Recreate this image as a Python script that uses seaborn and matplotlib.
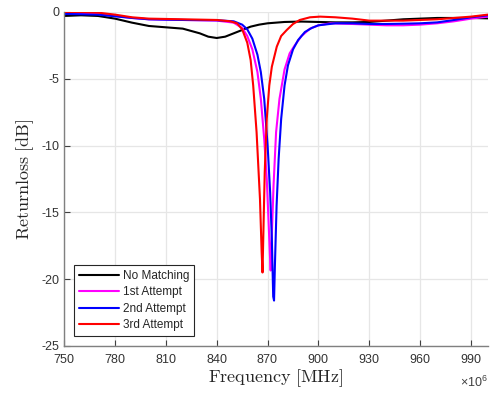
import numpy as np
import pandas as pd
import matplotlib
matplotlib.use("Agg")
import matplotlib.pyplot as plt
import seaborn as sns
from matplotlib.ticker import ScalarFormatter

# Frequency points [MHz] and return loss [dB]
f_none = [750, 760, 770, 780, 790, 800, 810, 820, 830, 835, 840, 845, 850, 855, 860,
          865, 870, 880, 890, 900, 910, 920, 930, 940, 950, 960, 970, 980, 990, 1000]
rl_none = [-0.3, -0.25, -0.3, -0.5, -0.8, -1.05, -1.15, -1.25, -1.6, -1.85, -1.95, -1.85,
           -1.6, -1.35, -1.1, -0.95, -0.85, -0.75, -0.72, -0.75, -0.78, -0.78, -0.75,
           -0.65, -0.55, -0.5, -0.45, -0.45, -0.45, -0.48]

f_1st = [750, 770, 790, 800, 820, 840, 850, 855, 858, 861, 864, 866, 868, 869.5, 870.5,
         871.3, 871.8, 872.4, 873.5, 875, 877, 880, 883, 886, 890, 895, 900, 907, 920,
         930, 940, 950, 960, 970, 980, 990, 1000]
rl_1st = [-0.1, -0.15, -0.45, -0.55, -0.6, -0.65, -0.8, -1.2, -1.8, -2.8, -4.5, -6.5,
          -9.5, -12.5, -15.5, -18.0, -19.35, -17.0, -13.0, -9.0, -6.5, -4.3, -3.1, -2.5,
          -1.8, -1.25, -1.0, -0.85, -0.9, -0.95, -1.0, -1.0, -0.95, -0.85, -0.7, -0.5,
          -0.35]

f_2nd = [750, 770, 790, 800, 820, 840, 850, 855, 858, 861, 864, 866, 868, 870, 871.5,
         872.5, 873.3, 873.8, 874.3, 875.3, 876.5, 878, 880, 882, 885, 888, 892, 896,
         900, 910, 920, 930, 940, 950, 960, 970, 980, 990, 1000]
rl_2nd = [-0.15, -0.2, -0.45, -0.55, -0.6, -0.62, -0.7, -0.95, -1.3, -2.0, -3.2, -4.5,
          -6.5, -10.0, -13.5, -17.0, -21.3, -21.6, -19.0, -14.5, -11.0, -8.0, -5.5, -4.0,
          -2.8, -2.1, -1.5, -1.2, -1.0, -0.85, -0.85, -0.9, -0.9, -0.88, -0.85, -0.78,
          -0.6, -0.4, -0.25]

f_3rd = [750, 760, 770, 780, 790, 800, 820, 840, 848, 852, 855, 858, 860, 861.5, 863.5,
         865.5, 866.5, 867, 867.6, 868.3, 869.5, 871, 872.5, 875.4, 878, 881.3, 885, 889,
         895, 901, 910, 920, 930, 940, 950, 960, 970, 980, 990, 1000]
rl_3rd = [0.0, 0.0, -0.05, -0.2, -0.4, -0.5, -0.55, -0.6, -0.7, -0.85, -1.3, -2.3, -3.6,
          -5.5, -9.0, -14.0, -18.0, -19.5, -16.0, -12.0, -8.0, -5.5, -4.1, -2.6, -1.8,
          -1.35, -0.9, -0.6, -0.4, -0.35, -0.4, -0.5, -0.65, -0.65, -0.65, -0.6, -0.55,
          -0.45, -0.35, -0.2]

labels = ["No Matching", "1st Attempt", "2nd Attempt", "3rd Attempt"]
colors = ["#000000", "#ff00ff", "#0000ff", "#ff0000"]

frames = []
for name, f, rl in zip(labels, [f_none, f_1st, f_2nd, f_3rd],
                       [rl_none, rl_1st, rl_2nd, rl_3rd]):
    frames.append(pd.DataFrame({"freq": np.array(f) * 1e6, "rl": rl, "trace": name}))
df = pd.concat(frames, ignore_index=True)

sns.set_style("white")
plt.rcParams["font.family"] = ["Liberation Sans", "DejaVu Sans"]
plt.rcParams["axes.unicode_minus"] = False
plt.rcParams["mathtext.fontset"] = "custom"
plt.rcParams["mathtext.rm"] = "Liberation Sans"

fig = plt.figure(figsize=(4.97, 3.93), dpi=100)
ax = fig.add_axes([0.129, 0.1196, 0.853, 0.85])

sns.lineplot(data=df, x="freq", y="rl", hue="trace", hue_order=labels,
             palette=colors, sort=False, estimator=None, linewidth=1.5, ax=ax)

ax.set_xlim(750e6, 1000e6)
ax.set_ylim(-25, 0)
ax.set_xticks(np.arange(750, 991, 30) * 1e6)
ax.set_yticks([-25, -20, -15, -10, -5, 0])
fmt = ScalarFormatter(useMathText=True)
fmt.set_powerlimits((6, 6))
ax.xaxis.set_major_formatter(fmt)
ax.xaxis.get_offset_text().set_visible(False)
ax.text(1.0, -0.108, r"$\times10^{6}$", transform=ax.transAxes, ha="right",
        va="center", fontsize=9, color="#404040")

ax.grid(True, color="#e6e6e6", linewidth=0.9)
for side in ["top", "right"]:
    ax.spines[side].set_visible(False)
for side in ["left", "bottom"]:
    ax.spines[side].set_color("#808080")
    ax.spines[side].set_linewidth(1.0)
ax.tick_params(direction="in", length=4, color="#404040", labelsize=9,
               labelcolor="#333333", left=True, bottom=True)
ax.tick_params(axis="x", pad=5)

ax.set_xlabel(r"$\mathrm{Frequency\ [MHz]}$", fontsize=13, math_fontfamily="cm",
              color="#262626", labelpad=1)
ax.set_ylabel(r"$\mathrm{Returnloss\ [dB]}$", fontsize=13, math_fontfamily="cm",
              color="#262626", labelpad=4)

leg = ax.legend(loc="lower left", bbox_to_anchor=(0.024, 0.03), fontsize=8.5,
                frameon=True, fancybox=False, edgecolor="#262626", framealpha=1,
                handlelength=3.4, handletextpad=0.3, labelspacing=0.38,
                borderpad=0.4, borderaxespad=0)
leg.get_frame().set_linewidth(0.8)
for line in leg.get_lines():
    line.set_linewidth(1.5)

fig.savefig("out.png", dpi=100)
